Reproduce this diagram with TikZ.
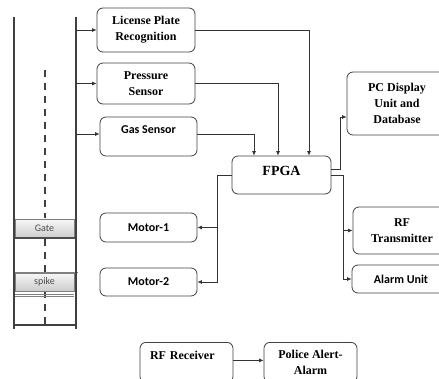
\documentclass[tikz,border=0pt]{standalone}
\usepackage{fontspec}
\setmainfont{Liberation Serif}
\newfontfamily\calibri{Carlito}
\usetikzlibrary{arrows.meta}

\tikzstyle{block} = [align=center, draw=black!75, rectangle, rounded corners=6pt, line width=0.8pt, minimum width=98pt, font=\fontsize{12}{16}\selectfont\bfseries]
\tikzstyle{sblock} = [block, font=\calibri\fontsize{12}{14}\selectfont\bfseries]
\tikzstyle{plate} = [inner sep=0pt, font=\calibri\fontsize{10}{12}\selectfont, text=black!70]
\tikzstyle{post} = [line width=1.6pt, draw=black!75]

\begin{document}
\begin{tikzpicture}[auto,>={Latex[length=4.5pt,width=4pt]},x=1pt,y=-1pt]
            \useasboundingbox (0,0) rectangle (439,379);
            %
            % We start with the road, the gate and the spike
            \draw [line width=1.4pt, black!75, dash pattern=on 7pt off 6pt] (45,70) -- (45,330);
            \shadedraw [top color=gray!6, bottom color=gray!40, draw=gray] (15,219) rectangle (74,238);
            \draw [line width=1.4pt, black!70] (15,238) -- (76,238);
            \node [plate] (gate) at (44.5,228.5) {Gate};
            \shadedraw [top color=gray!6, bottom color=gray!40, draw=gray] (15,273) rectangle (74,291);
            \draw [gray] (15,272.5) -- (78,272.5);
            \draw [gray] (15,294) -- (74,294) (15,296) -- (74,296);
            \node [plate] (spike) at (44.5,282) {spike};
            \draw [post] (14,17) -- (14,329);
            \draw [post] (76,17) -- (76,329);
            \draw [post] (14,325) -- (76,325);
            \coordinate (road) at (76,0);
            %
            % Then the blocks
            \node [block, minimum height=44pt] (lpr) at (146,30) {License Plate\\Recognition};
            \node [block, minimum height=41pt] (pressure) at (146,83.5) {Pressure\\Sensor};
            \node [sblock, minimum width=97pt, minimum height=39pt, text height=8pt, text depth=13pt] (gas) at (148.5,136.5) {Gas Sensor};
            \node [block, minimum width=99pt, minimum height=38pt, font=\fontsize{14}{16}\selectfont\bfseries, text height=9.5pt, text depth=8pt] (fpga) at (281.5,175) {FPGA};
            \node [block, minimum width=100pt, minimum height=63pt] (pc) at (397,103.5) {PC Display\\Unit and\\Database};
            \node [block, minimum height=47pt] (rftx) at (402,230.5) {RF\\Transmitter};
            \node [sblock, minimum height=28pt] (alarm) at (401,279) {Alarm Unit};
            \node [sblock, minimum width=97pt, minimum height=29pt] (motora) at (148.5,227.5) {Motor-1};
            \node [sblock, minimum width=97pt, minimum height=28pt] (motorb) at (148.5,282) {Motor-2};
            \node [block, anchor=north, minimum width=93pt, minimum height=40pt, text width=73pt, align=left, text height=8pt, text depth=14pt] (rfrx) at (186.5,342) {RF Receiver};
            \node [block, anchor=north, minimum width=93pt, minimum height=40pt] (police) at (310.5,342) {Police Alert-\\Alarm};
            %
            % Now the connections
            \begin{scope}[line width=0.7pt, black!80]
            \draw [->] (lpr.west -| road) -- (lpr.west);
            \draw [->] (pressure.west -| road) -- (pressure.west);
            \draw [->] ([yshift=2.5pt]gas.west -| road) -- ([yshift=2.5pt]gas.west);
            \draw [->] (lpr.east) -| ([xshift=27.5pt]fpga.north);
            \draw [->] (pressure.east) -| ([xshift=-3.5pt]fpga.north);
            \draw [->] ([yshift=2.5pt]gas.east) -| ([xshift=-27.5pt]fpga.north);
            \draw [->] ([yshift=6pt]fpga.east) -- ++(9,0) |- ([yshift=-13.5pt]pc.west);
            \draw [->] (fpga.east) -- ++(12,0) |- (rftx.west);
            \draw [->] (fpga.east) -- ++(12,0) |- (alarm.west);
            \draw [->] (fpga.west) -- ++(-14,0) |- (motora.east);
            \draw [->] (fpga.west) -- ++(-14,0) |- (motorb.east);
            \draw [->] ([yshift=2pt]rfrx.east) -- ([yshift=2pt]police.west);
            \end{scope}
            %
        \end{tikzpicture}
\end{document}
